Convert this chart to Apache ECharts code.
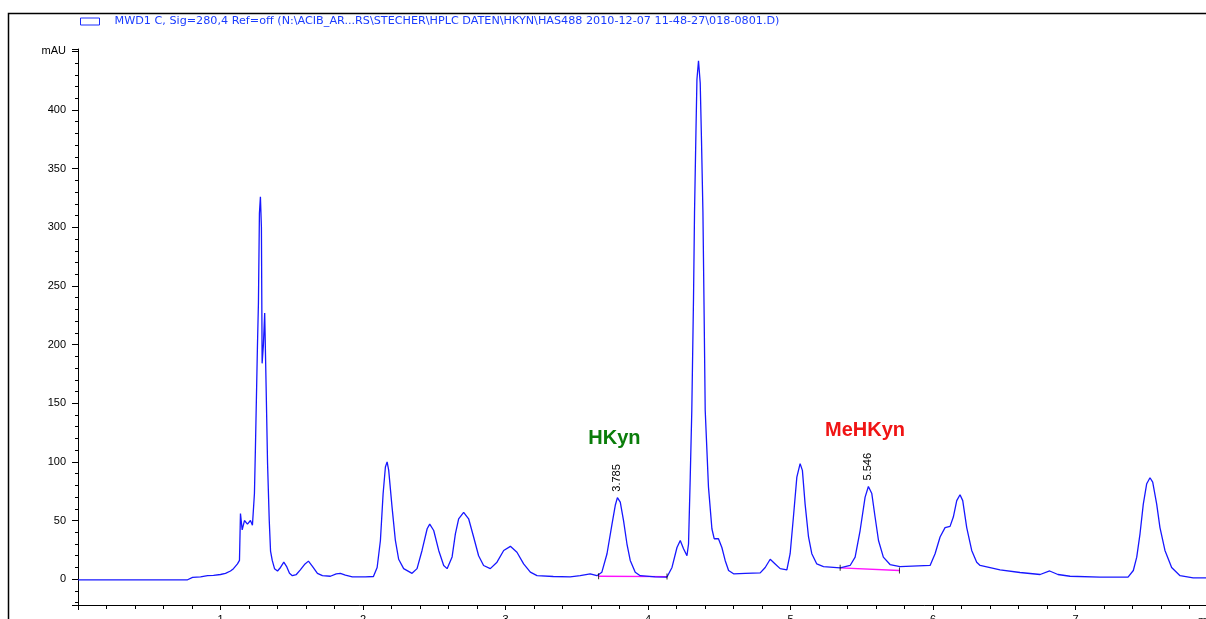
<!DOCTYPE html>
<html>
<head>
<meta charset="utf-8">
<script src="https://cdn.jsdelivr.net/npm/echarts@6/dist/echarts.min.js"></script>
<style>
  html, body { margin: 0; padding: 0; background: #fff; }
  #chart { width: 1206px; height: 619px; }
</style>
</head>
<body>
<div id="chart"></div>
<script>
// Chromatogram trace: retention time (min) and detector signal (mAU)
const retentionTime = [
  0.00, 0.50, 0.769, 0.804, 0.860, 0.909, 0.951, 1.000, 1.035, 1.070, 1.091, 1.119, 1.133,
  1.140, 1.152, 1.168, 1.189, 1.210, 1.224, 1.238, 1.245, 1.259, 1.266, 1.273, 1.280, 1.287,
  1.292, 1.301, 1.310, 1.320, 1.330, 1.342, 1.351, 1.363, 1.379, 1.400, 1.421, 1.444, 1.463,
  1.484, 1.504, 1.532, 1.560, 1.589, 1.617, 1.645, 1.680, 1.715, 1.771, 1.812, 1.841, 1.876,
  1.925, 2.016, 2.073, 2.099, 2.122, 2.141, 2.157, 2.169, 2.180, 2.204, 2.227, 2.250, 2.285,
  2.344, 2.379, 2.414, 2.450, 2.468, 2.496, 2.531, 2.566, 2.590, 2.625, 2.648, 2.671, 2.706,
  2.741, 2.776, 2.811, 2.846, 2.893, 2.940, 2.987, 3.034, 3.080, 3.127, 3.174, 3.221, 3.335,
  3.453, 3.524, 3.594, 3.641, 3.676, 3.712, 3.747, 3.770, 3.785, 3.805, 3.828, 3.852, 3.875,
  3.910, 3.945, 4.050, 4.132, 4.168, 4.203, 4.226, 4.249, 4.273, 4.284, 4.296, 4.307, 4.319,
  4.326, 4.336, 4.343, 4.354, 4.366, 4.375, 4.385, 4.394, 4.401, 4.424, 4.448, 4.464, 4.494,
  4.518, 4.541, 4.565, 4.600, 4.682, 4.787, 4.822, 4.857, 4.892, 4.927, 4.974, 4.997, 5.020,
  5.044, 5.067, 5.083, 5.102, 5.126, 5.149, 5.184, 5.231, 5.348, 5.418, 5.453, 5.488, 5.523,
  5.546, 5.570, 5.593, 5.617, 5.651, 5.698, 5.768, 5.979, 6.014, 6.049, 6.084, 6.119, 6.142,
  6.166, 6.189, 6.208, 6.236, 6.271, 6.306, 6.330, 6.470, 6.610, 6.751, 6.818, 6.876, 6.961,
  7.171, 7.368, 7.405, 7.429, 7.452, 7.475, 7.499, 7.522, 7.541, 7.569, 7.592, 7.627, 7.674,
  7.733, 7.825, 7.915
];
const absorbance = [
  -0.5, -0.5, -0.5, 1.5, 2, 3, 3.2, 4, 5, 7, 9, 13, 16,
  56, 42, 50, 47, 50, 46, 73, 112, 198, 235, 312, 326, 300,
  184, 200, 227, 164, 99, 50, 24, 16, 9, 7, 10, 14.5, 11,
  5, 3, 4, 8, 12.5, 15.4, 11, 5, 3, 2.5, 4.5, 5, 3.5,
  2, 2, 2.3, 10, 33, 73, 95.6, 100, 93, 61, 33, 17, 9,
  5, 9, 24.5, 43, 47, 41.5, 24.5, 11.7, 9, 19, 38.7, 51.5, 57,
  51.5, 36, 20, 11.7, 9, 14.5, 24.5, 28, 23, 13, 6, 3, 2.3,
  2, 3, 4.6, 3, 6, 21.7, 47, 63, 69.5, 65.7, 50, 30, 16,
  6, 3, 2, 1.7, 10, 27, 33, 26, 20, 30, 87, 144, 240,
  312, 381, 426, 442, 423, 374, 313, 220, 144, 78.5, 43, 34.5, 34.5,
  27, 16, 7.4, 4.6, 5, 5.4, 10, 17, 13, 9, 8, 21.7, 53,
  87, 98.5, 92.8, 64, 36, 21.7, 13, 10.8, 9.7, 11.7, 18.8, 41.5, 70,
  79, 73, 53, 33, 18.8, 12.5, 10.8, 11.7, 21.7, 36, 44, 45, 53,
  67, 72, 67, 44, 24.5, 14.5, 11.7, 8, 5.7, 4, 7, 4, 2.5,
  1.7, 1.7, 7.4, 18.8, 38.7, 64, 81.4, 86.5, 82.8, 64, 44, 24.5, 10,
  3, 1.2, 1.2
];

// Integration baselines drawn under the two identified peaks
const hkynBaseTime = [3.653, 4.133];
const hkynBaseSignal = [2.5, 2.2];
const mehkynBaseTime = [5.348, 5.764];
const mehkynBaseSignal = [9.7, 7.4];

// Identified peaks: retention time labels and compound names
const peakTimes = [3.785, 5.546];
const peakSignals = [69.5, 79];
const peakLabels = ['3.785', '5.546'];
const compoundNames = ['HKyn', 'MeHKyn'];

const signalName = 'MWD1 C, Sig=280,4 Ref=off (N:\\ACIB_AR...RS\\STECHER\\HPLC DATEN\\HKYN\\HAS488 2010-12-07 11-48-27\\018-0801.D)';
const yTickLabels = { 450: 'mAU' };

const FONT = "'Liberation Sans', Arial, sans-serif";
const trace = retentionTime.map((t, i) => [t, absorbance[i]]);
const pairs = (ts, vs) => ts.map((t, i) => [t, vs[i]]);
const baseEnds = pairs(hkynBaseTime, hkynBaseSignal).concat(pairs(mehkynBaseTime, mehkynBaseSignal));

const chart = echarts.init(document.getElementById('chart'), null, { renderer: 'canvas' });

chart.setOption({
  animation: false,
  backgroundColor: '#ffffff',
  textStyle: { fontFamily: FONT },
  grid: { left: 78, right: 0, top: 49, bottom: 14, containLabel: false, outerBoundsMode: 'none' },
  legend: {
    data: [signalName],
    left: 80, top: 16, padding: 0,
    icon: 'rect',
    itemWidth: 19, itemHeight: 7,
    itemStyle: { color: '#ffffff', borderColor: '#1a2cff', borderWidth: 1 },
    textStyle: { color: '#1a3cff', fontSize: 11.2, fontFamily: "'DejaVu Sans', sans-serif", padding: [0, 0, 0, 10] },
    selectedMode: false
  },
  graphic: [{
    type: 'rect', silent: true,
    shape: { x: 8.5, y: 13.5, width: 1400, height: 800 },
    style: { fill: null, stroke: '#000', lineWidth: 1.5 }
  }],
  xAxis: {
    type: 'value', min: 0, max: 7.915, interval: 1,
    name: 'min', nameLocation: 'end', nameGap: -8,
    nameTextStyle: { color: '#000', fontSize: 11, align: 'left', verticalAlign: 'top', padding: [10, 0, 0, 0] },
    axisLine: { onZero: false, lineStyle: { color: '#000', width: 1 } },
    axisTick: { length: 5, lineStyle: { color: '#000' } },
    minorTick: { show: true, splitNumber: 5, length: 4, lineStyle: { color: '#000' } },
    axisLabel: { color: '#000', fontSize: 11, margin: 9, showMaxLabel: false,
      formatter: v => (Number.isInteger(v) && v > 0 ? String(v) : '') },
    splitLine: { show: false }
  },
  yAxis: [{
    type: 'value', min: -22, max: 452, splitNumber: 9,
    axisLine: { show: true, lineStyle: { color: '#000', width: 1 } },
    axisTick: { length: 6, lineStyle: { color: '#000' } },
    axisLabel: { color: '#000', fontSize: 11, margin: 12,
      formatter: v => (yTickLabels[v] !== undefined ? yTickLabels[v] : (v >= 0 && v % 50 === 0 ? String(v) : '')) },
    splitLine: { show: false }
  }, {
    type: 'value', min: -22, max: 452, splitNumber: 47, position: 'left', offset: 0,
    axisLine: { show: false },
    axisTick: { show: true, length: 3, lineStyle: { color: '#000' } },
    axisLabel: { show: false },
    splitLine: { show: false }
  }],
  series: [
    {
      name: 'integration', type: 'line', silent: true,
      data: pairs(hkynBaseTime, hkynBaseSignal),
      symbol: 'none', lineStyle: { color: '#ff10ff', width: 1.3 }, z: 2
    },
    {
      name: 'integration2', type: 'line', silent: true,
      data: pairs(mehkynBaseTime, mehkynBaseSignal),
      symbol: 'none', lineStyle: { color: '#ff10ff', width: 1.3 }, z: 2
    },
    {
      name: signalName, type: 'line', data: trace,
      symbol: 'none', smooth: false,
      lineStyle: { color: '#1717ff', width: 1.3 },
      itemStyle: { color: '#1717ff' },
      z: 3,
      markPoint: {
        symbol: 'rect', symbolSize: 0, silent: true,
        data: [
          ...peakTimes.map((t, i) => ({
            coord: [t, peakSignals[i]], value: peakLabels[i],
            label: { show: true, formatter: peakLabels[i], position: [0, -6], rotate: 90,
              align: 'left', verticalAlign: 'middle', color: '#000', fontSize: 11, fontFamily: FONT }
          })),
          {
            coord: [3.581, 119.7], value: compoundNames[0],
            label: { show: true, formatter: compoundNames[0], position: [0, 0], align: 'left',
              verticalAlign: 'middle', color: '#0a7d0a', fontSize: 20, fontWeight: 'bold', fontFamily: FONT }
          },
          {
            coord: [5.242, 126.9], value: compoundNames[1],
            label: { show: true, formatter: compoundNames[1], position: [0, 0], align: 'left',
              verticalAlign: 'middle', color: '#f01414', fontSize: 20, fontWeight: 'bold', fontFamily: FONT }
          }
        ]
      }
    },
    {
      name: 'baseline ends', type: 'scatter', silent: true,
      data: baseEnds, symbol: 'rect', symbolSize: [1, 6],
      itemStyle: { color: '#000' }, z: 4
    }
  ]
});
</script>
</body>
</html>
